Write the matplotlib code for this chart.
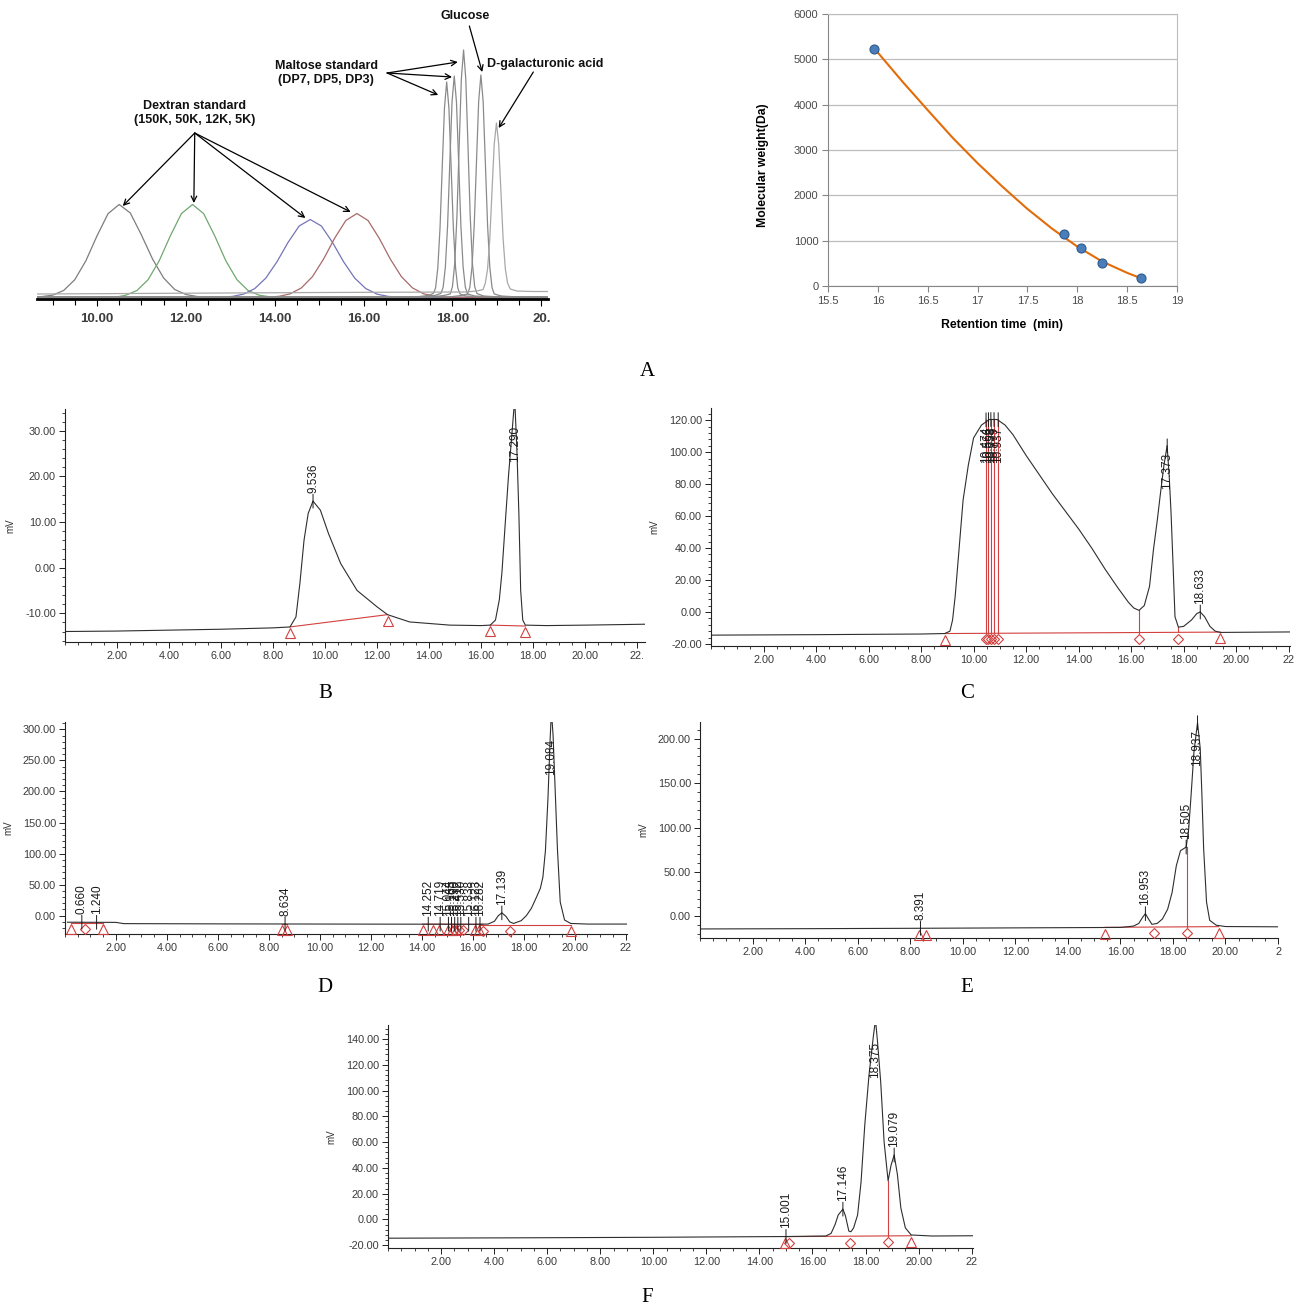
import matplotlib.pyplot as plt
from matplotlib import transforms as mtransforms
from matplotlib.ticker import MultipleLocator, FixedLocator, FixedFormatter, FuncFormatter

plt.rcParams['font.family'] = ['Liberation Sans', 'DejaVu Sans']

W, H = 1300, 1310
RED = '#d2403f'
INK = '#2e2e2e'

# ---------------- panel A, left: standards overlay (height in px above axis) ----------------
a150_t = [8.65, 9.0, 9.25, 9.5, 9.75, 10.0, 10.25, 10.5, 10.75, 11.0, 11.25, 11.5, 11.75, 12.0, 12.25, 12.5, 14.0, 20.15]
a150_y = [1.8, 3.8, 8.5, 19.3, 38.2, 63.1, 85.4, 94.5, 86, 64, 40, 21, 9.5, 4.5, 2.5, 1.8, 1.5, 1.2]
a50_t = [8.65, 10.4, 10.65, 10.9, 11.15, 11.4, 11.65, 11.9, 12.15, 12.4, 12.65, 12.9, 13.15, 13.4, 13.65, 13.9, 14.15, 20.15]
a50_y = [1.5, 1.6, 3.8, 8.5, 19.3, 38.2, 63.1, 85.4, 94.5, 85.4, 63.1, 38.2, 19.3, 8.5, 3.8, 2.1, 1.6, 1.2]
a12_t = [8.65, 12.5, 12.8, 13.05, 13.3, 13.55, 13.8, 14.05, 14.3, 14.55, 14.8, 15.05, 15.3, 15.55, 15.8, 16.05, 16.3, 16.55, 16.8, 20.15]
a12_y = [1.5, 1.6, 1.8, 2.6, 4.9, 10.4, 20.9, 37.2, 56.6, 73, 79.5, 73, 56.6, 37.2, 20.9, 10.4, 4.9, 2.6, 1.8, 1.5]
a5_t = [8.65, 13.6, 13.85, 14.1, 14.35, 14.6, 14.85, 15.1, 15.35, 15.6, 15.85, 16.1, 16.35, 16.6, 16.85, 17.1, 17.35, 17.6, 17.85, 20.15]
a5_y = [1.5, 1.6, 1.8, 2.7, 5.2, 11.1, 22.4, 40, 60.9, 78.5, 85.5, 78.5, 60.9, 40, 22.4, 11.1, 5.2, 2.7, 1.8, 1.5]
dp7_t = [8.65, 17.2, 17.45, 17.57, 17.62, 17.67, 17.72, 17.77, 17.82, 17.87, 17.92, 17.97, 18.02, 18.07, 18.12, 18.17, 18.3, 18.6, 20.15]
dp7_y = [2, 2.2, 3.5, 5.5, 11, 31, 71, 132, 191, 217, 191, 132, 71, 31, 11, 5, 3, 2.2, 2]
dp5_t = [8.65, 17.35, 17.6, 17.74, 17.79, 17.84, 17.89, 17.94, 17.99, 18.04, 18.09, 18.14, 18.19, 18.24, 18.29, 18.34, 18.5, 18.8, 20.15]
dp5_y = [2, 2.2, 3.5, 5.6, 11.7, 31.9, 73, 136, 197, 223, 197, 136, 73, 31.9, 11.7, 5, 3, 2.2, 2]
dp3_t = [8.65, 17.55, 17.8, 17.95, 18.0, 18.05, 18.1, 18.15, 18.2, 18.25, 18.3, 18.35, 18.4, 18.45, 18.5, 18.55, 18.7, 19.0, 20.15]
dp3_y = [2, 2.2, 3.5, 5, 12.5, 35, 82, 152, 220, 249, 220, 152, 82, 35, 12.5, 5.5, 3, 2.2, 2]
glc_t = [8.65, 17.95, 18.2, 18.34, 18.39, 18.44, 18.49, 18.54, 18.59, 18.64, 18.69, 18.74, 18.79, 18.84, 18.89, 18.94, 19.1, 19.4, 20.15]
glc_y = [2, 2.2, 3.5, 5, 11.5, 32, 74, 136.5, 198, 224, 198, 136.5, 74, 32, 11.5, 5, 3, 2.2, 2]
gal_t = [8.65, 15.0, 18.3, 18.55, 18.69, 18.74, 18.79, 18.84, 18.89, 18.94, 18.99, 19.04, 19.09, 19.14, 19.19, 19.24, 19.3, 19.45, 19.8, 20.15]
gal_y = [5, 6.5, 7, 8, 9.5, 16, 30, 60, 108, 155, 176, 155, 108, 60, 30, 16, 10, 8, 7.5, 7.5]
a_ticks = [10, 12, 14, 16, 18, 20]
a_ticklabels = ['10.00', '12.00', '14.00', '16.00', '18.00', '20.']

# ---------------- panel A, right: calibration curve ----------------
cal_rt = [15.96, 17.87, 18.04, 18.25, 18.64]
cal_mw = [5220, 1150, 830, 510, 180]
fit_rt = [15.98, 16.25, 16.5, 16.75, 17.0, 17.25, 17.5, 17.75, 18.0, 18.25, 18.5, 18.64]
fit_mw = [5200, 4500, 3880, 3270, 2710, 2190, 1700, 1260, 870, 540, 290, 170]

# ---------------- panel B ----------------
b_t = [0, 2, 4, 6, 8, 8.65, 8.88, 9.03, 9.19, 9.35, 9.536, 9.82, 10.13, 10.6, 11.23, 12.0, 12.4, 13.25, 14.8, 16.0,
       16.35, 16.55, 16.7, 16.8, 16.93, 17.05, 17.15, 17.29, 17.38, 17.45, 17.52, 17.6, 17.7, 18.5, 20.0, 22.3]
b_mv = [-14.0, -13.9, -13.7, -13.5, -13.2, -13.0, -10.8, -3.5, 6, 11.9, 14.6, 12.6, 7.5, 0.9, -5, -8.6, -10.3, -11.9, -12.6, -12.7,
        -12.6, -11.5, -7, -1, 10, 20, 27, 37, 25, 12, -5, -11.5, -12.6, -12.7, -12.6, -12.4]
b_peaks = [('9.536', 9.536, 14.6), ('17.290', 17.29, 37)]
b_tri = [(8.65, -13.0), (12.4, -10.3), (16.35, -12.6), (17.7, -12.8)]
b_dia = []
b_red = [([8.65, 12.4], [-13.0, -10.3]), ([16.35, 17.7], [-12.6, -12.8])]
b_drop = []

# ---------------- panel C ----------------
c_t = [0, 4, 8, 8.9, 9.1, 9.2, 9.3, 9.45, 9.6, 9.8, 10.0, 10.3, 10.6, 10.9, 11.2, 11.5, 12.0, 12.5, 13.0, 13.5,
       14.0, 14.5, 15.0, 15.5, 15.9, 16.1, 16.3, 16.5, 16.7, 16.85, 17.0, 17.1, 17.25, 17.37, 17.45, 17.52, 17.6, 17.67,
       17.8, 18.0, 18.3, 18.5, 18.63, 18.8, 19.0, 19.2, 19.4, 22.05]
c_mv = [-14.5, -14.2, -13.8, -13.5, -12, -5, 10, 40, 70, 92, 109, 117, 120.5, 120.5, 117, 111, 98, 86, 74, 63,
        52, 40, 27, 15, 6, 2.5, 1.0, 4, 16, 39, 58, 72, 92, 104, 85, 62, 28, -3,
        -9.5, -9, -5, -1, 0, -3, -9, -12, -12.8, -12.5]
c_peaks = [('10.474', 10.474, 120.3), ('10.566', 10.566, 120.4), ('10.658', 10.658, 120.5),
           ('10.779', 10.779, 120.5), ('10.937', 10.937, 120.4), ('17.373', 17.373, 104), ('18.633', 18.633, 0)]
c_tri = [(8.9, -13.5), (19.4, -12.6)]
c_dia = [(10.474, -13.3), (10.566, -13.3), (10.658, -13.3), (10.779, -13.3), (10.937, -13.3), (16.3, -12.9), (17.8, -12.7)]
c_red = [([8.9, 19.4], [-13.5, -12.6])]
c_drop = [(10.474, -13.3, 120.3), (10.566, -13.3, 120.4), (10.658, -13.3, 120.5), (10.779, -13.3, 120.5),
          (10.937, -13.3, 120.4), (16.3, -12.9, 1.0), (17.8, -12.7, -9.5)]

# ---------------- panel D ----------------
d_t = [0.1, 2.0, 2.3, 6.0, 12.0, 16.0, 16.6, 16.85, 17.0, 17.139, 17.3, 17.45, 17.6, 17.9, 18.1, 18.3, 18.5, 18.65,
       18.75, 18.85, 18.95, 19.03, 19.084, 19.15, 19.22, 19.32, 19.43, 19.6, 19.84, 20.5, 22.05]
d_mv = [-10.5, -10.8, -12.8, -13.2, -13.6, -13.8, -13.5, -9, 0, 4.5, -1, -10, -12.5, -8, 0, 12, 30, 44,
        62, 105, 190, 280, 330, 290, 215, 108, 22, -7, -12.5, -13.5, -13.5]
d_peaks = [('0.660', 0.66, -10.6), ('1.240', 1.24, -10.7), ('8.634', 8.634, -13.3), ('14.252', 14.252, -13.7),
           ('14.719', 14.719, -13.7), ('15.044', 15.044, -13.7), ('15.165', 15.165, -13.7), ('15.290', 15.29, -13.7),
           ('15.412', 15.412, -13.7), ('15.530', 15.53, -13.7), ('15.838', 15.838, -13.8), ('16.123', 16.123, -13.8),
           ('16.282', 16.282, -13.8), ('17.139', 17.139, 4.5), ('19.084', 19.084, 330)]
d_tri = [(0.24, -11.0), (1.49, -11.0), (8.53, -13.2), (8.72, -13.2), (14.03, -13.6), (14.43, -13.6), (14.69, -13.6),
         (15.04, -13.7), (15.2, -13.7), (15.35, -13.7), (16.08, -13.8), (16.24, -13.8), (19.84, -14.5)]
d_dia = [(0.8, -11.0), (15.28, -13.7), (15.45, -13.7), (15.6, -13.7), (16.4, -14.2), (17.47, -14.5)]
d_red = [([0.24, 1.49], [-11, -11]), ([8.53, 8.72], [-13.2, -13.2]), ([14.03, 16.4], [-13.6, -14.0]),
         ([16.24, 19.84], [-14.5, -14.5])]
d_drop = []

# ---------------- panel E ----------------
e_t = [0, 4, 8, 12, 16, 16.5, 16.7, 16.85, 16.953, 17.05, 17.2, 17.4, 17.6, 17.8, 17.97, 18.13, 18.29, 18.4, 18.505,
       18.6, 18.7, 18.8, 18.937, 19.04, 19.1, 19.17, 19.28, 19.4, 19.65, 20.0, 22.0]
e_mv = [-14.2, -13.9, -13.5, -13.0, -12.5, -11, -8, -1, 3, -2, -9, -8, -3, 8, 27, 57, 74, 76, 78,
        98, 140, 185, 218, 189, 140, 76, 16, -4.5, -10, -11.5, -11.8]
e_peaks = [('8.391', 8.391, -13.5), ('16.953', 16.953, 3), ('18.505', 18.505, 78), ('18.937', 18.937, 218)]
e_tri = [(8.35, -13.5), (8.6, -13.5), (15.42, -12.4), (19.74, -11.6)]
e_dia = [(17.29, -12.2), (18.53, -11.9)]
e_red = [([15.42, 19.74], [-12.4, -11.6])]
e_drop = [(18.53, -11.9, 78)]

# ---------------- panel F ----------------
f_t = [0, 5, 10, 15, 16.5, 16.7, 16.85, 16.97, 17.146, 17.24, 17.37, 17.45, 17.55, 17.7, 17.83, 17.97, 18.13, 18.3,
       18.375, 18.45, 18.57, 18.7, 18.85, 18.96, 19.079, 19.2, 19.33, 19.5, 19.72, 20.5, 22.05]
f_mv = [-14.5, -14.2, -13.8, -13.2, -12.8, -10.8, -4, 3.5, 8, 3, -9, -9.5, -6.5, 3.5, 29, 73, 112, 143,
        155, 138, 107, 60, 30, 42, 50, 35, 9, -6.5, -12, -12.8, -12.6]
f_peaks = [('15.001', 15.001, -13.2), ('17.146', 17.146, 8), ('18.375', 18.375, 155), ('19.079', 19.079, 50)]
f_tri = [(14.95, -13.3), (19.72, -12.6)]
f_dia = [(15.1, -13.3), (17.4, -13.0), (18.85, -12.8)]
f_red = [([14.95, 19.72], [-13.3, -12.6])]
f_drop = [(18.85, -12.8, 30)]

chrom_xticks = [2, 4, 6, 8, 10, 12, 14, 16, 18, 20, 22]


def px_rect(x0, y0, x1, y1):
    return [x0 / W, 1 - y1 / H, (x1 - x0) / W, (y1 - y0) / H]


fig = plt.figure(figsize=(W / 100, H / 100), dpi=100)


def chromatogram(rect, t, mv, xmax, ylim, ymaj, ymin, last_label, peaks, tri, dia, reds, drops):
    ax = fig.add_axes(rect)
    ax.set_xlim(0, xmax)
    ax.set_ylim(*ylim)
    for rt, rv in reds:
        ax.plot(rt, rv, color=RED, lw=0.8, zorder=1.5)
    for dt, d0, d1 in drops:
        ax.plot([dt, dt], [d0, d1], color=RED, lw=0.8, zorder=1.5)
    ax.plot(t, mv, color=INK, lw=0.8, zorder=2)

    # integration marks sit just under the baseline
    off = mtransforms.offset_copy(ax.transData, fig=fig, x=0, y=-4.5, units='points')
    if tri:
        ax.plot([p[0] for p in tri], [p[1] for p in tri], '^', transform=off, ms=7,
                mfc='none', mec=RED, mew=0.8, clip_on=False, zorder=3)
    if dia:
        ax.plot([p[0] for p in dia], [p[1] for p in dia], 'D', transform=off, ms=5,
                mfc='none', mec=RED, mew=0.8, clip_on=False, zorder=3)

    top = ylim[1]
    ppu = rect[3] * H / (ylim[1] - ylim[0])
    tkw = dict(textcoords='offset points', rotation=90, ha='center', fontsize=8.5,
               color='#1a1a1a', annotation_clip=False)
    for txt, pt, ph in peaks:
        if ph >= top:
            ax.annotate(txt, xy=(pt, top), xytext=(0, -12), va='top', **tkw)
            continue
        for dy in (5, -5):
            ax.annotate('', xy=(pt, ph), xytext=(0, dy), textcoords='offset points', annotation_clip=False,
                        arrowprops=dict(arrowstyle='-', lw=0.7, color='#1a1a1a', shrinkA=0, shrinkB=0))
        need = (len(txt) - 0.5) * 6.5 + 12
        if (top - ph) * ppu > need:
            ax.annotate(txt, xy=(pt, ph), xytext=(0, 6), va='bottom', **tkw)
        else:
            ax.annotate(txt, xy=(pt, ph), xytext=(0, -5), va='top', **tkw)

    labels = ['%.2f' % v for v in chrom_xticks[:-1]] + [last_label]
    ax.xaxis.set_major_locator(FixedLocator(chrom_xticks))
    ax.xaxis.set_major_formatter(FixedFormatter(labels))
    ax.xaxis.set_minor_locator(MultipleLocator(0.5))
    ax.yaxis.set_major_locator(MultipleLocator(ymaj))
    ax.yaxis.set_minor_locator(MultipleLocator(ymin))
    ax.yaxis.set_major_formatter(FuncFormatter(lambda v, p: '%.2f' % v))
    ax.tick_params(which='major', length=4.5, width=0.7, color='#222222', labelsize=7.8,
                   labelcolor='#3a3a3a', pad=2)
    ax.tick_params(which='minor', length=2.5, width=0.6, color='#222222')
    for s in ('top', 'right'):
        ax.spines[s].set_visible(False)
    for s in ('left', 'bottom'):
        ax.spines[s].set_linewidth(0.8)
        ax.spines[s].set_color('#222222')
    ax.set_ylabel('mV', fontsize=7, color='#333333', labelpad=7)
    return ax


# ---------------- draw panel A left ----------------
axA = fig.add_axes(px_rect(37, 5, 548, 299))
for tt, yy, col in [(a150_t, a150_y, '#7d7d7d'), (a50_t, a50_y, '#6fa86f'), (a12_t, a12_y, '#7474b8'),
                    (a5_t, a5_y, '#a86a6a'), (dp7_t, dp7_y, '#8a8a8a'), (dp5_t, dp5_y, '#8a8a8a'),
                    (dp3_t, dp3_y, '#8a8a8a'), (glc_t, glc_y, '#8a8a8a'), (gal_t, gal_y, '#a8a8a8')]:
    axA.plot(tt, yy, color=col, lw=0.9)
axA.set_xlim(8.65, 20.15)
axA.set_ylim(0, 294)
axA.set_yticks([])
for s in ('top', 'right', 'left'):
    axA.spines[s].set_visible(False)
axA.spines['bottom'].set_linewidth(2.0)
axA.spines['bottom'].set_color('black')
axA.xaxis.set_major_locator(FixedLocator(a_ticks))
axA.xaxis.set_major_formatter(FixedFormatter(a_ticklabels))
axA.xaxis.set_minor_locator(MultipleLocator(0.5))
axA.tick_params(which='major', length=5, width=0.8, labelsize=9.5, labelcolor='#3c3c3c', pad=5)
axA.tick_params(which='minor', length=4, width=0.8)
for lab in axA.get_xticklabels():
    lab.set_fontweight('bold')

akw = dict(fontsize=9, fontweight='bold', ha='center', va='center', color='#111111')
arw = dict(arrowstyle='->', lw=0.9, color='black', shrinkA=0, shrinkB=0, mutation_scale=10)
axA.text(18.29, 283, 'Glucose', **akw)
axA.annotate('', xy=(18.67, 227), xytext=(18.38, 273), arrowprops=arw)
axA.text(15.16, 226, 'Maltose standard\n(DP7, DP5, DP3)', linespacing=1.3, **akw)
for tip in [(18.12, 237), (17.99, 222), (17.68, 204)]:
    axA.annotate('', xy=tip, xytext=(16.53, 226), arrowprops=arw)
axA.text(20.09, 235, 'D-galacturonic acid', **akw)
axA.annotate('', xy=(19.04, 171), xytext=(19.82, 227), arrowprops=arw)
axA.text(12.2, 186, 'Dextran standard\n(150K, 50K, 12K, 5K)', linespacing=1.3, **akw)
for tip in [(10.58, 93), (12.18, 96), (14.69, 81), (15.71, 87)]:
    axA.annotate('', xy=tip, xytext=(12.2, 166), arrowprops=arw)

# ---------------- draw panel A right ----------------
axR = fig.add_axes(px_rect(828, 14, 1177, 286))
axR.plot(fit_rt, fit_mw, color='#e36c0a', lw=1.5, zorder=2)
axR.plot(cal_rt, cal_mw, 'o', ms=6.5, mfc='#4a7ebb', mec='#2f5a8a', mew=0.8, zorder=3)
axR.set_xlim(15.5, 19)
axR.set_ylim(0, 6000)
axR.xaxis.set_major_locator(MultipleLocator(0.5))
axR.xaxis.set_major_formatter(FuncFormatter(lambda v, p: '%g' % v))
axR.yaxis.set_major_locator(MultipleLocator(1000))
axR.yaxis.grid(True, color='#bdbdbd', lw=0.9)
axR.set_axisbelow(True)
axR.tick_params(length=4, width=0.8, color='#868686', labelsize=8, labelcolor='#4a4a4a', pad=3)
for s in ('left', 'bottom'):
    axR.spines[s].set_color('#868686')
for s in ('top', 'right'):
    axR.spines[s].set_color('#bdbdbd')
fig.text(763 / W, 1 - 165 / H, 'Molecular weight(Da)', rotation=90, ha='center', va='center',
         fontsize=8.8, fontweight='bold')
fig.text(1002 / W, 1 - 325 / H, 'Retention time  (min)', ha='center', va='center',
         fontsize=8.8, fontweight='bold')

# ---------------- chromatograms B-F ----------------
chromatogram(px_rect(65, 409, 645, 642), b_t, b_mv, 22.3, (-16.3, 34.8), 10, 2, '22.',
             b_peaks, b_tri, b_dia, b_red, b_drop)
chromatogram(px_rect(711, 408, 1290, 646), c_t, c_mv, 22.05, (-21.3, 127.7), 20, 4, '22',
             c_peaks, c_tri, c_dia, c_red, c_drop)
chromatogram(px_rect(65, 722, 627, 934), d_t, d_mv, 22.05, (-29.5, 311.8), 50, 10, '22',
             d_peaks, d_tri, d_dia, d_red, d_drop)
chromatogram(px_rect(700, 722, 1278, 938), e_t, e_mv, 22.0, (-24.4, 218.8), 50, 10, '2',
             e_peaks, e_tri, e_dia, e_red, e_drop)
chromatogram(px_rect(388, 1025, 973, 1248), f_t, f_mv, 22.05, (-22.1, 150.8), 20, 4, '22',
             f_peaks, f_tri, f_dia, f_red, f_drop)

# ---------------- panel letters ----------------
for letter, x, y in [('A', 647, 372), ('B', 325, 693), ('C', 967, 693), ('D', 325, 988),
                     ('E', 967, 988), ('F', 647, 1298)]:
    fig.text(x / W, 1 - y / H, letter, ha='center', va='center', fontsize=15, family='Liberation Serif')

fig.savefig('out.png', dpi=100)
